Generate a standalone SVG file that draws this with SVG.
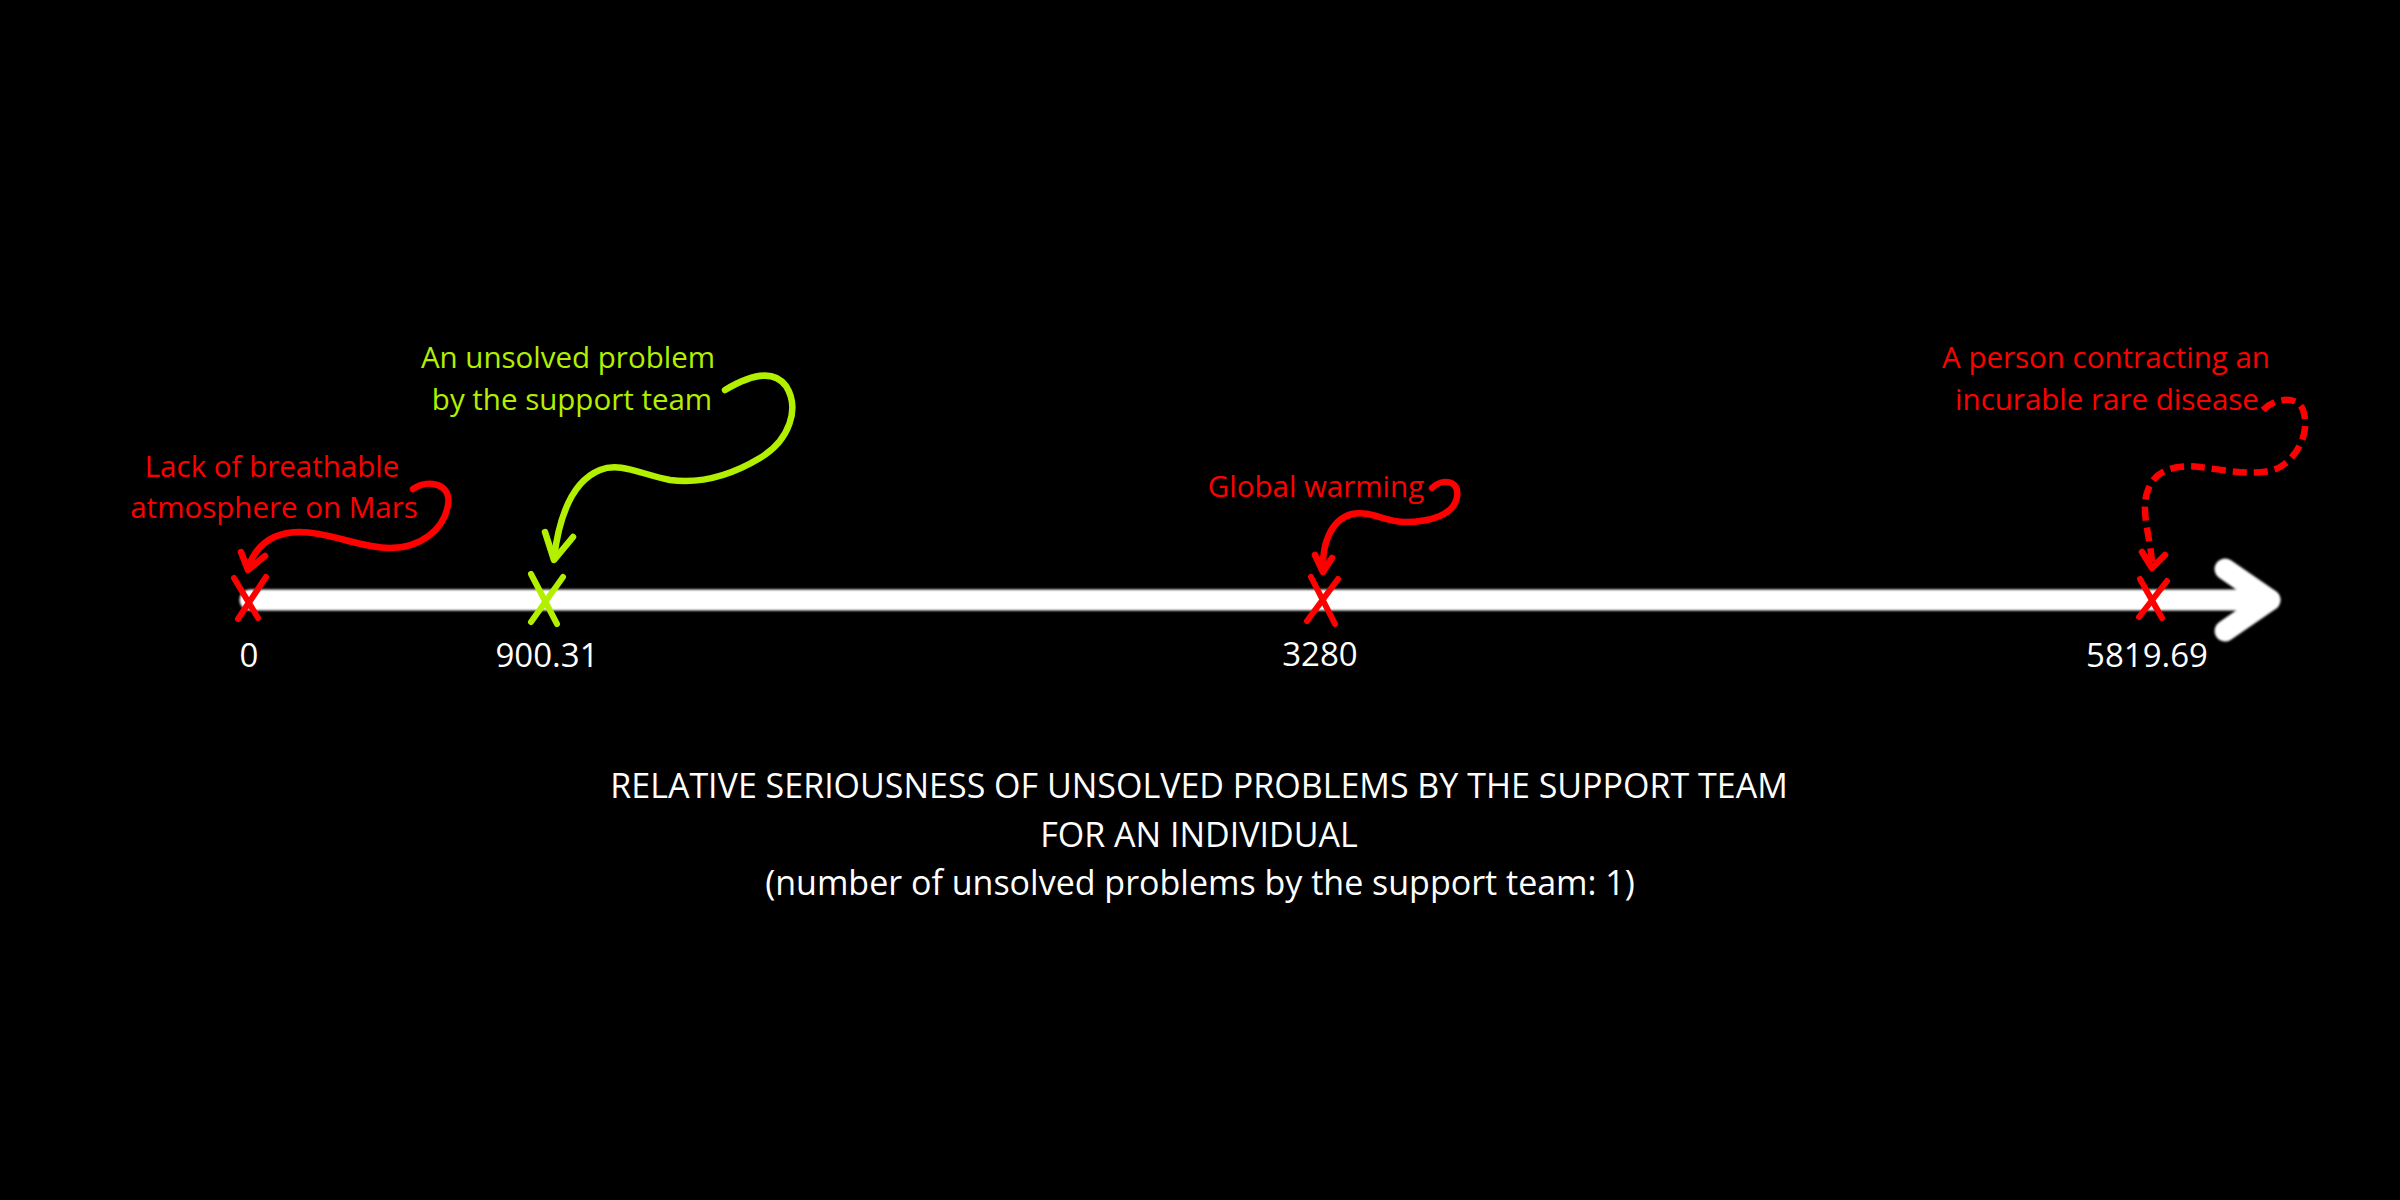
<svg xmlns="http://www.w3.org/2000/svg" width="2400" height="1200" viewBox="0 0 2400 1200">
  <style>
    text { font-family: "Open Sans", "Noto Sans", "Liberation Sans", sans-serif; }
    .lbl { font-size: 29.5px; text-anchor: middle; }
    .red { fill: #ff0000; }
    .grn { fill: #b3f000; }
    .num { font-size: 33px; fill: #ffffff; text-anchor: middle; }
    .title { font-size: 34px; fill: #ffffff; text-anchor: middle; }
    .x { fill: none; stroke-width: 6; stroke-linecap: round; }
    .cur { fill: none; stroke-width: 6.5; stroke-linecap: round; stroke-linejoin: round; }
    .dash { fill: none; stroke-width: 6.5; stroke-linecap: butt; stroke-linejoin: round; stroke-dasharray: 14 7; }
    .axis { fill: none; stroke: #ffffff; stroke-width: 21; stroke-linecap: round; stroke-linejoin: round; }
  </style>
  <defs>
    <filter id="soft" filterUnits="userSpaceOnUse" x="200" y="520" width="2150" height="160">
      <feGaussianBlur stdDeviation="1.2"/>
    </filter>
  </defs>
  <rect x="0" y="0" width="2400" height="1200" fill="#000000"/>

  <g id="axis" filter="url(#soft)">
    <path class="axis" d="M 250 600 L 2270 600"/>
    <path class="axis" d="M 2225 569 L 2270 600 L 2225 631"/>
  </g>

  <g id="connectors">
    <g id="arrow-mars" stroke="#ff0000">
      <path class="cur" d="M 413 489 C 430 478, 452 485, 448 505 C 444 530, 420 548, 390 548 C 360 548, 330 532, 300 532 C 270 532, 255 548, 248 568"/>
      <path class="cur" d="M 241 552 L 248 570 L 265 556"/>
    </g>
    <g id="arrow-support" stroke="#b3f000">
      <path class="cur" d="M 725 390 C 745 378, 772 367, 786 386 C 800 408, 790 440, 760 458 C 730 476, 700 484, 670 480 C 640 474, 620 462, 600 470 C 575 480, 560 510, 554 558"/>
      <path class="cur" d="M 545 532 L 554 560 L 573 537"/>
    </g>
    <g id="arrow-warming" stroke="#ff0000">
      <path class="cur" d="M 1432 488 C 1442 478, 1460 480, 1457 497 C 1454 515, 1430 522, 1405 522 C 1385 522, 1370 510, 1352 514 C 1330 520, 1322 545, 1323 570"/>
      <path class="cur" d="M 1315 555 L 1323 572 L 1332 558"/>
    </g>
    <g id="arrow-disease" stroke="#ff0000">
      <path class="dash" d="M 2263 410 C 2275 398, 2297 395, 2303 410 C 2310 430, 2300 455, 2280 467 C 2260 478, 2225 470, 2200 467 C 2175 464, 2155 470, 2148 490 C 2140 510, 2150 535, 2152 562"/>
      <path class="cur" d="M 2142 552 L 2152 568 L 2165 555"/>
    </g>
  </g>

  <g id="node-mars">
    <path class="x" stroke="#ff0000" d="M 234 578 L 258 618 M 266 577 L 238 619"/>
    <text class="num" x="249" y="667">0</text>
    <text class="lbl red" x="272" y="477">Lack of breathable</text>
    <text class="lbl red" x="274" y="518">atmosphere on Mars</text>
  </g>

  <g id="node-support">
    <path class="x" stroke="#b3f000" d="M 531 574 L 557 624 M 563 577 L 531 622"/>
    <text class="num" x="547" y="667">900.31</text>
    <text class="lbl grn" x="568" y="368">An unsolved problem</text>
    <text class="lbl grn" x="572" y="410">by the support team</text>
  </g>

  <g id="node-warming">
    <path class="x" stroke="#ff0000" d="M 1311 577 L 1335 624 M 1338 579 L 1307 621"/>
    <text class="num" x="1320" y="666">3280</text>
    <text class="lbl red" x="1316" y="497">Global warming</text>
  </g>

  <g id="node-disease">
    <path class="x" stroke="#ff0000" d="M 2140 579 L 2162 618 M 2167 581 L 2139 617"/>
    <text class="num" x="2147" y="667">5819.69</text>
    <text class="lbl red" x="2106" y="368">A person contracting an</text>
    <text class="lbl red" x="2107" y="410">incurable rare disease</text>
  </g>

  <g id="caption">
    <text class="title" x="1199" y="798">RELATIVE SERIOUSNESS OF UNSOLVED PROBLEMS BY THE SUPPORT TEAM</text>
    <text class="title" x="1199" y="847">FOR AN INDIVIDUAL</text>
    <text class="title" x="1200" y="895">(number of unsolved problems by the support team: 1)</text>
  </g>
</svg>
